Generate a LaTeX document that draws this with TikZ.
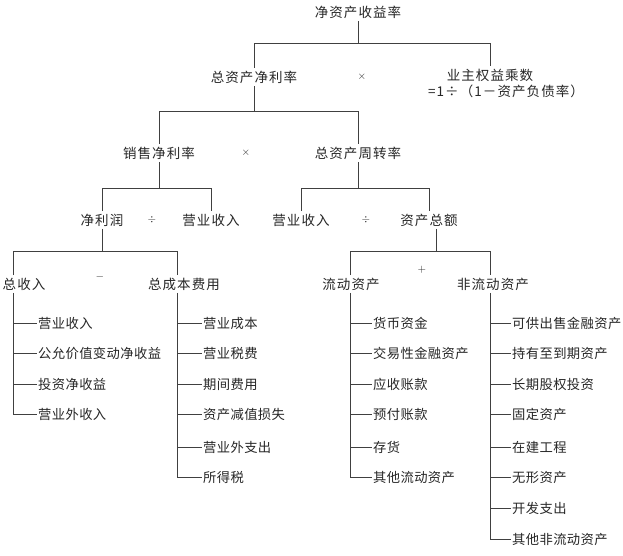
\documentclass[tikz,border=0pt]{standalone}
\usepackage{fontspec}
\newfontfamily\cjkhead[LetterSpace=8]{Noto Sans CJK SC}
\newfontfamily\cjkitem[LetterSpace=3]{Noto Sans CJK SC}
\tikzset{
	head/.style = {font=\cjkhead\fontsize{13.5}{15}\selectfont, text=black!85, inner sep=2.5pt},
	item/.style = {font=\cjkitem\fontsize{13.3}{15}\selectfont, text=black!85, anchor=west, inner sep=1pt},
	op/.style = {font=\fontsize{11}{13}\selectfont, text=black!85, inner sep=1pt},
	link/.style = {draw=black!75, line width=0.9pt}
}
\begin{document}
\begin{tikzpicture} [x = 1pt, y = -1pt]
	\useasboundingbox (0,0) rectangle (623,555);
	% levels of the tree
	\node [head] (roe) at (358,12) {净资产收益率};
	\node [head] (roa) at (254,77) {总资产净利率};
	\node [op] (mul1) at (362,77) {$\times$};
	\node [head] (em) at (490,75) {业主权益乘数};
	\node [head, inner sep=0pt] (emf) at (506,91) {=1÷（1－资产负债率）};
	\node [head] (npm) at (159,153) {销售净利率};
	\node [op] (mul2) at (246,153) {$\times$};
	\node [head] (tat) at (358,153) {总资产周转率};
	\node [head] (np) at (102,220) {净利润};
	\node [op] (div1) at (152,220) {$\div$};
	\node [head] (rev1) at (211,220) {营业收入};
	\node [head] (rev2) at (301,220) {营业收入};
	\node [op] (div2) at (366,220) {$\div$};
	\node [head] (ta) at (429,220) {资产总额};
	\node [head, anchor=west] (tr) at (0,284) {总收入};
	\node [op] (sub) at (100,277) {$-$};
	\node [head] (tc) at (184,284) {总成本费用};
	\node [head] (ca) at (351,284) {流动资产};
	\node [op] (add) at (422,270) {$+$};
	\node [head] (nca) at (493,284) {非流动资产};
	% items under the four lists
	\node [item] (r1) at (37,323) {营业收入};
	\node [item] (r2) at (37,353) {公允价值变动净收益};
	\node [item] (r3) at (37,384) {投资净收益};
	\node [item] (r4) at (37,414) {营业外收入};
	\node [item] (c1) at (202,323) {营业成本};
	\node [item] (c2) at (202,353) {营业税费};
	\node [item] (c3) at (202,384) {期间费用};
	\node [item] (c4) at (202,414) {资产减值损失};
	\node [item] (c5) at (202,447) {营业外支出};
	\node [item] (c6) at (202,477) {所得税};
	\node [item] (a1) at (372,323) {货币资金};
	\node [item] (a2) at (372,353) {交易性金融资产};
	\node [item] (a3) at (372,384) {应收账款};
	\node [item] (a4) at (372,414) {预付账款};
	\node [item] (a5) at (372,447) {存货};
	\node [item] (a6) at (372,477) {其他流动资产};
	\node [item] (n1) at (511,323) {可供出售金融资产};
	\node [item] (n2) at (511,353) {持有至到期资产};
	\node [item] (n3) at (511,384) {长期股权投资};
	\node [item] (n4) at (511,414) {固定资产};
	\node [item] (n5) at (511,447) {在建工程};
	\node [item] (n6) at (511,477) {无形资产};
	\node [item] (n7) at (511,508) {开发支出};
	\node [item] (n8) at (511,539) {其他非流动资产};
	% bars and trunks
	\coordinate (b1) at (0,43);
	\coordinate (b2) at (0,111);
	\coordinate (b3) at (0,188);
	\coordinate (b4) at (0,251);
	\coordinate (t1) at (13,0);
	\coordinate (t2) at (177,0);
	\coordinate (t3) at (350,0);
	\coordinate (t4) at (490,0);
	\draw [link] (roe.south) -- (roe.south |- b1);
	\draw [link] (roa.north) -- (roa.north |- b1) -- (em.north |- b1) -- (em.north);
	\draw [link] (roa.south) -- (roa.south |- b2);
	\draw [link] (npm.north) -- (npm.north |- b2) -- (tat.north |- b2) -- (tat.north);
	\draw [link] (npm.south) -- (npm.south |- b3);
	\draw [link] (np.north) -- (np.north |- b3) -- (rev1.north |- b3) -- (rev1.north);
	\draw [link] (tat.south) -- (tat.south |- b3);
	\draw [link] (rev2.north) -- (rev2.north |- b3) -- (ta.north |- b3) -- (ta.north);
	\draw [link] (np.south) -- (np.south |- b4);
	\draw [link] (tr.north -| t1) -- (t1 |- b4) -- (t2 |- b4) -- (tc.north -| t2);
	\draw [link] ([xshift=7pt]ta.south) -- ([xshift=7pt]ta.south |- b4);
	\draw [link] (ca.north -| t3) -- (t3 |- b4) -- (t4 |- b4) -- (nca.north -| t4);
	% lists
	\draw [link] (tr.south -| t1) |- (r4.west);
	\draw [link] (t1 |- r1.west) -- (r1.west);
	\draw [link] (t1 |- r2.west) -- (r2.west);
	\draw [link] (t1 |- r3.west) -- (r3.west);
	\draw [link] (tc.south -| t2) |- (c6.west);
	\draw [link] (t2 |- c1.west) -- (c1.west);
	\draw [link] (t2 |- c2.west) -- (c2.west);
	\draw [link] (t2 |- c3.west) -- (c3.west);
	\draw [link] (t2 |- c4.west) -- (c4.west);
	\draw [link] (t2 |- c5.west) -- (c5.west);
	\draw [link] (ca.south -| t3) |- (a6.west);
	\draw [link] (t3 |- a1.west) -- (a1.west);
	\draw [link] (t3 |- a2.west) -- (a2.west);
	\draw [link] (t3 |- a3.west) -- (a3.west);
	\draw [link] (t3 |- a4.west) -- (a4.west);
	\draw [link] (t3 |- a5.west) -- (a5.west);
	\draw [link] (nca.south -| t4) |- (n8.west);
	\draw [link] (t4 |- n1.west) -- (n1.west);
	\draw [link] (t4 |- n2.west) -- (n2.west);
	\draw [link] (t4 |- n3.west) -- (n3.west);
	\draw [link] (t4 |- n4.west) -- (n4.west);
	\draw [link] (t4 |- n5.west) -- (n5.west);
	\draw [link] (t4 |- n6.west) -- (n6.west);
	\draw [link] (t4 |- n7.west) -- (n7.west);
\end{tikzpicture}
\end{document}
